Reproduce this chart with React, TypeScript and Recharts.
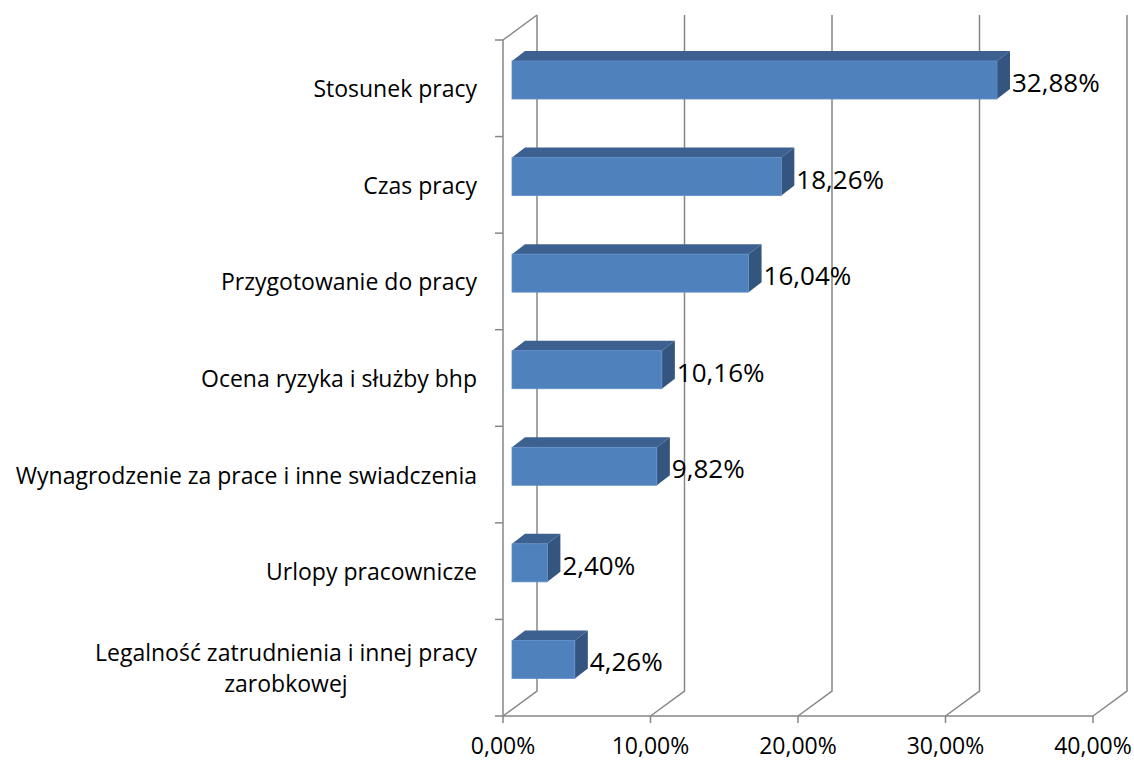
import React from "react";
import {
  BarChart,
  Bar,
  XAxis,
  YAxis,
  CartesianGrid,
  LabelList,
} from "recharts";

const categories = [
  "Stosunek pracy",
  "Czas pracy",
  "Przygotowanie do pracy",
  "Ocena ryzyka i służby bhp",
  "Wynagrodzenie za prace i inne swiadczenia",
  "Urlopy pracownicze",
  "Legalność zatrudnienia i innej pracy zarobkowej",
];
const shares = [0.3288, 0.1826, 0.1604, 0.1016, 0.0982, 0.024, 0.0426];
const xTicks = [0, 0.1, 0.2, 0.3, 0.4];

const data = categories.map((name, i) => ({ name, value: shares[i] }));

const FONT = "'Open Sans', Lato, sans-serif";
const FONT_SIZE = 23;
const LABEL_SIZE = 26;
const GRID = "#868686";

// 3d look: depth of the back wall and of each bar
const WALL_DX = 34;
const WALL_DY = 25;
const BAR_DX = 9;
const BAR_DY = 8;
const BAR_DEPTH_X = 13;
const BAR_DEPTH_Y = 10;

const PLOT_LEFT = 503;

const pct = (v: number) => (v * 100).toFixed(2).replace(".", ",") + "%";

function wrap(text: string, max = 44) {
  const words = text.split(" ");
  const lines: string[] = [];
  let cur = "";
  for (const w of words) {
    const next = cur ? cur + " " + w : w;
    if (next.length > max && cur) {
      lines.push(cur);
      cur = w;
    } else cur = next;
  }
  if (cur) lines.push(cur);
  return lines;
}

let ctx: CanvasRenderingContext2D | null = null;
function measure(text: string) {
  if (!ctx) ctx = document.createElement("canvas").getContext("2d");
  if (!ctx) return text.length * FONT_SIZE * 0.5;
  ctx.font = `${FONT_SIZE}px ${FONT}`;
  return ctx.measureText(text).width;
}

function CategoryTick(props: any) {
  const { x, y, payload, index } = props;
  const half = payload.offset ?? 0;
  const lines = wrap(payload.value);
  const right = x - 26;
  const widest = Math.max(...lines.map(measure));
  const base = y + 9 - ((lines.length - 1) * 31) / 2;
  return (
    <g>
      <line x1={x - 8} y1={y - half} x2={x} y2={y - half} stroke={GRID} strokeWidth={1.5} />
      {index === categories.length - 1 && (
        <line x1={x - 8} y1={y + half} x2={x} y2={y + half} stroke={GRID} strokeWidth={1.5} />
      )}
      {index === 0 && (
        <line
          x1={x}
          y1={y - half}
          x2={x + WALL_DX}
          y2={y - half - WALL_DY}
          stroke={GRID}
          strokeWidth={1.5}
        />
      )}
      {lines.map((ln, i) => (
        <text
          key={i}
          x={lines.length > 1 ? right - widest / 2 : right}
          y={base + i * 31}
          textAnchor={lines.length > 1 ? "middle" : "end"}
          fontSize={FONT_SIZE}
          fontFamily={FONT}
          fill="#000"
        >
          {ln}
        </text>
      ))}
    </g>
  );
}

function ValueTick(props: any) {
  const { x, y, payload } = props;
  return (
    <text
      x={x}
      y={y + 23}
      textAnchor="middle"
      fontSize={FONT_SIZE}
      fontFamily={FONT}
      fill="#000"
    >
      {pct(payload.value)}
    </text>
  );
}

function WallLine(props: any) {
  const { x1, y1, y2 } = props;
  const d = `M${x1 + WALL_DX},${y1 - WALL_DY} L${x1 + WALL_DX},${y2 - WALL_DY} L${x1},${y2}`;
  return <path d={d} fill="none" stroke={GRID} strokeWidth={1.5} />;
}

function Box(props: any) {
  const { x, y, width, height } = props;
  const fx = x + BAR_DX;
  const fy = y - BAR_DY;
  const rx = fx + width;
  const top = `M${fx},${fy} L${fx + BAR_DEPTH_X},${fy - BAR_DEPTH_Y} L${rx + BAR_DEPTH_X},${fy - BAR_DEPTH_Y} L${rx},${fy} Z`;
  const side = `M${rx},${fy} L${rx + BAR_DEPTH_X},${fy - BAR_DEPTH_Y} L${rx + BAR_DEPTH_X},${fy + height - BAR_DEPTH_Y} L${rx},${fy + height} Z`;
  return (
    <g>
      <path d={top} fill="#3C6191" />
      <path d={side} fill="#33557F" />
      <rect x={fx} y={fy} width={width} height={height} fill="#4F81BD" stroke="#5F8ECA" strokeWidth={0.8} />
    </g>
  );
}

function ValueLabel(props: any) {
  const { x, y, width, height, value } = props;
  return (
    <text
      x={x + BAR_DX + width + BAR_DEPTH_X + 2}
      y={y - BAR_DY + height / 2 + 12}
      fontSize={LABEL_SIZE}
      fontFamily={FONT}
      fill="#000"
    >
      {pct(value)}
    </text>
  );
}

export default function App() {
  return (
    <div style={{ position: "absolute", left: 0, top: 0, background: "#fff" }}>
      <BarChart
        width={1134}
        height={760}
        data={data}
        layout="vertical"
        margin={{ top: 40, right: 41, bottom: 14, left: 0 }}
        barSize={38}
      >
        <CartesianGrid horizontal={false} vertical={WallLine} />
        <XAxis
          type="number"
          domain={[0, 0.4]}
          ticks={xTicks}
          interval={0}
          height={30}
          stroke={GRID}
          strokeWidth={1.5}
          tickSize={7}
          tickMargin={8}
          tick={ValueTick}
        />
        <YAxis
          type="category"
          dataKey="name"
          width={PLOT_LEFT}
          stroke={GRID}
          strokeWidth={1.5}
          tickLine={false}
          tickSize={0}
          tickMargin={0}
          interval={0}
          tick={CategoryTick}
        />
        <Bar dataKey="value" shape={Box} isAnimationActive={false}>
          <LabelList dataKey="value" content={ValueLabel} />
        </Bar>
      </BarChart>
    </div>
  );
}
